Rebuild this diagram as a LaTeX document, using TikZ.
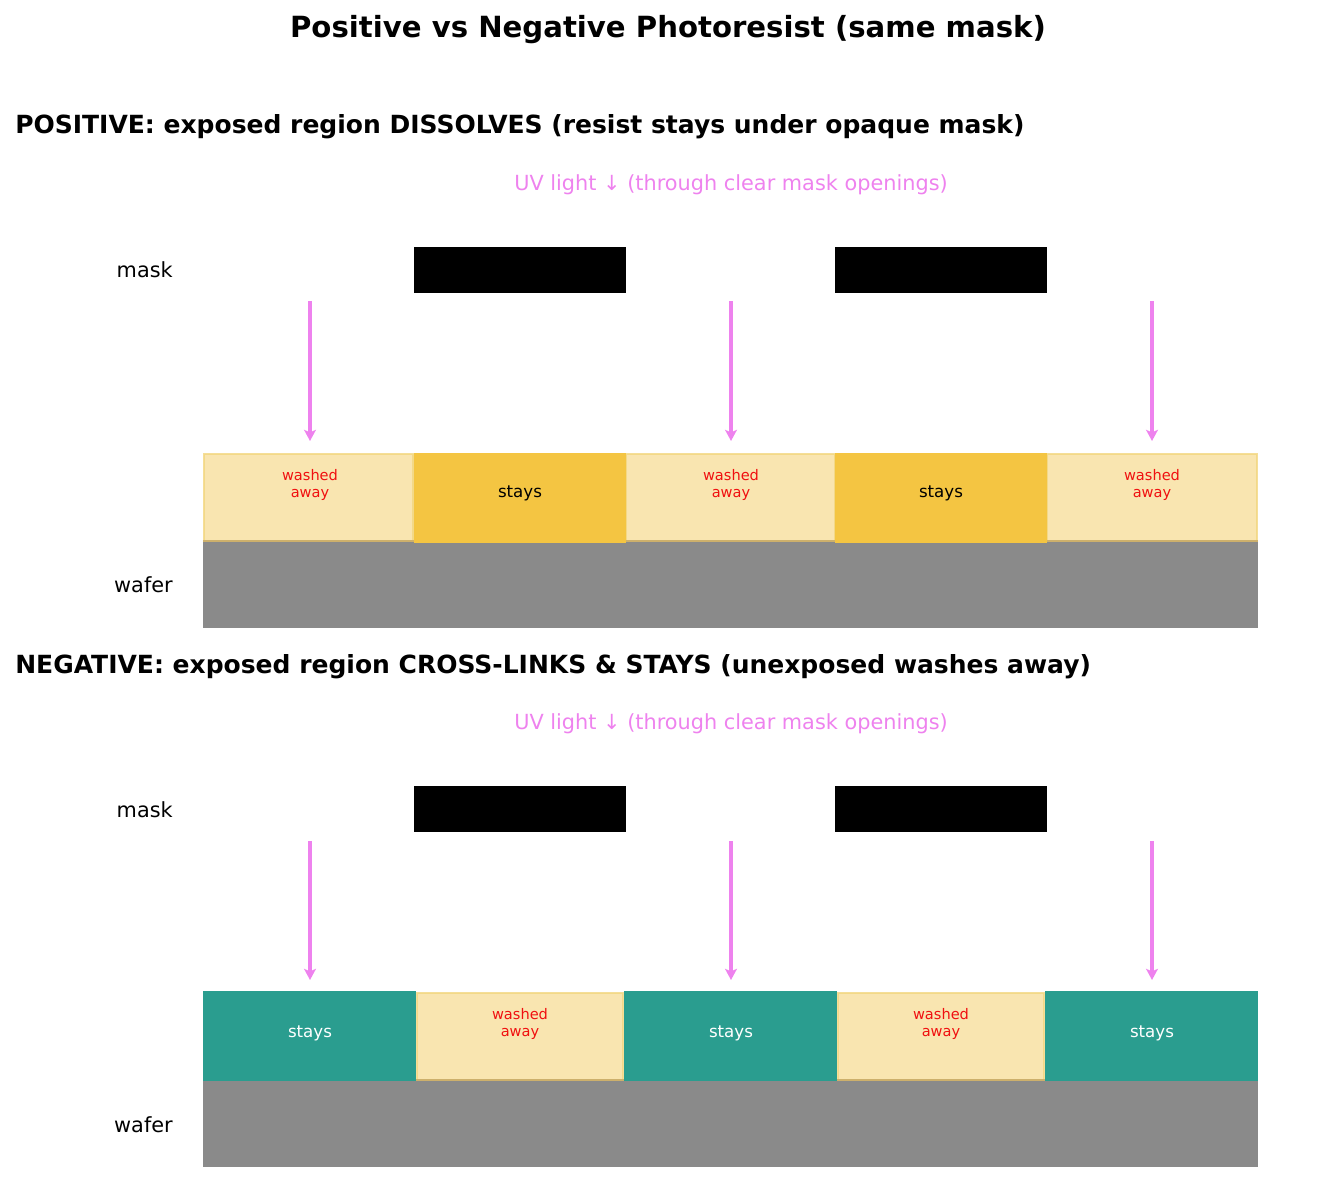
\documentclass[tikz,border=0pt]{standalone}
\usepackage{fontspec}
\setmainfont{DejaVu Sans}
\usetikzlibrary{arrows.meta}
\definecolor{uv}{HTML}{EE82EE}
\definecolor{washfill}{HTML}{F9E5B0}
\definecolor{washedge}{HTML}{F2D67E}
\definecolor{washbottom}{HTML}{CDB06C}
\definecolor{stayfill}{HTML}{F4C542}
\definecolor{negteal}{HTML}{2A9D8F}
\definecolor{wafergray}{HTML}{8A8A8A}
\definecolor{washred}{HTML}{F01010}
\begin{document}
\begin{tikzpicture}[x=0.72pt,y=-0.72pt,
  titletxt/.style={font=\bfseries\fontsize{21}{25}\selectfont},
  headtxt/.style={font=\bfseries\fontsize{18}{22}\selectfont, anchor=west, inner sep=0},
  uvtxt/.style={font=\fontsize{15}{18}\selectfont, text=uv, inner sep=0},
  sidetxt/.style={font=\fontsize{15}{18}\selectfont, anchor=east, inner sep=0},
  washtxt/.style={font=\fontsize{10.5}{11.6}\selectfont, text=washred, align=center, inner sep=0},
  staytxt/.style={font=\fontsize{12}{14}\selectfont, inner sep=0},
  maskbar/.style={fill=black},
  washrect/.style={fill=washfill, draw=washedge, draw opacity=0.8, line width=1.5},
  washline/.style={draw=washbottom, line width=1.5},
  posstay/.style={fill=stayfill},
  negstay/.style={fill=negteal},
  waferrect/.style={fill=wafergray},
  uvarrow/.style={draw=uv, line width=2.3pt, -{Stealth[length=8pt,width=8.5pt,inset=1.8pt]}}
]
\useasboundingbox (0,0) rectangle (1335,1183);
\node[titletxt] (title) at (668,30) {Positive vs Negative Photoresist (same mask)};

% ---------- positive panel ----------
\node[headtxt] (posHead) at (15,127) {POSITIVE: exposed region DISSOLVES (resist stays under opaque mask)};
\node[uvtxt] (posUV) at (731,185) {UV light ↓ (through clear mask openings)};
\node[sidetxt] (posMaskLbl) at (173,270) {mask};
\node[sidetxt] (posWaferLbl) at (173,585) {wafer};
\fill[maskbar] (414,247) rectangle (626,293);
\fill[maskbar] (835,247) rectangle (1047,293);
\fill[waferrect] (203,541) rectangle (1258,628);
\draw[washrect] (203.75,453.75) rectangle (413.5,541);
\draw[washrect] (626,453.75) rectangle (835,541);
\draw[washrect] (1047,453.75) rectangle (1257.25,541);
\draw[washline] (203,541) -- (1258,541);
\fill[posstay] (414,452.5) rectangle (626,542.5);
\fill[posstay] (835,452.5) rectangle (1047,542.5);
\node[washtxt] (posW1) at (310,485) {washed\\away};
\node[staytxt] (posS1) at (520,493) {stays};
\node[washtxt] (posW2) at (731,485) {washed\\away};
\node[staytxt] (posS2) at (941,493) {stays};
\node[washtxt] (posW3) at (1152,485) {washed\\away};
\foreach \i/\x in {1/310,2/731,3/1152}{
  \coordinate (posA\i) at (\x,301);
  \coordinate (posB\i) at (\x,441);
  \draw[uvarrow] (posA\i) -- (posB\i);
}

% ---------- negative panel ----------
\begin{scope}[shift={(0,540)}]
\node[headtxt] (negHead) at (15,127) {NEGATIVE: exposed region CROSS-LINKS \& STAYS (unexposed washes away)};
\node[uvtxt] (negUV) at (731,184) {UV light ↓ (through clear mask openings)};
\node[sidetxt] (negMaskLbl) at (173,270) {mask};
\node[sidetxt] (negWaferLbl) at (173,585) {wafer};
\fill[maskbar] (414,246) rectangle (626,292);
\fill[maskbar] (835,246) rectangle (1047,292);
\fill[waferrect] (203,540) rectangle (1258,627);
\fill[negstay] (203,451) rectangle (416,541);
\fill[negstay] (624,451) rectangle (837,541);
\fill[negstay] (1045,451) rectangle (1258,541);
\draw[washrect] (416.75,452.75) rectangle (623.25,540);
\draw[washrect] (837.75,452.75) rectangle (1044.25,540);
\draw[washline] (416,540) -- (624,540);
\draw[washline] (837,540) -- (1045,540);
\node[staytxt, text=white] (negS1) at (310,493) {stays};
\node[washtxt] (negW1) at (520,484) {washed\\away};
\node[staytxt, text=white] (negS2) at (731,493) {stays};
\node[washtxt] (negW2) at (941,484) {washed\\away};
\node[staytxt, text=white] (negS3) at (1152,493) {stays};
\foreach \i/\x in {1/310,2/731,3/1152}{
  \coordinate (negA\i) at (\x,301);
  \coordinate (negB\i) at (\x,440);
  \draw[uvarrow] (negA\i) -- (negB\i);
}
\end{scope}
\end{tikzpicture}
\end{document}
